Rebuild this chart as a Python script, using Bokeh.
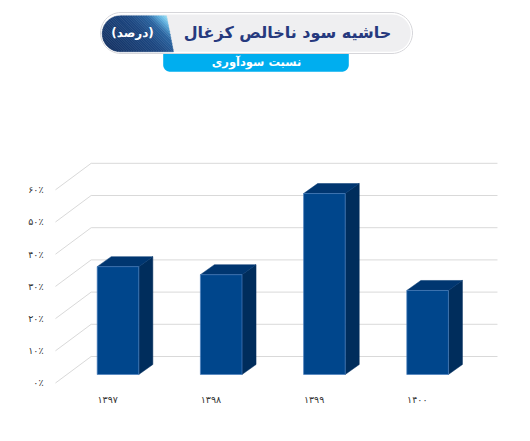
import numpy as np
from bokeh.plotting import figure
from bokeh.models import Range1d, LinearAxis, FixedTicker
from bokeh.core.properties import value
from bokeh.embed import file_html
from bokeh.resources import INLINE

# ---------------- data ----------------
years = ["۱۳۹۷", "۱۳۹۸", "۱۳۹۹", "۱۴۰۰"]
margin_pct = [33.5, 31.0, 56.2, 26.1]
y_ticks = [0, 10, 20, 30, 40, 50, 60]
y_tick_labels = ["۰٪", "۱۰٪", "۲۰٪", "۳۰٪", "۴۰٪", "۵۰٪", "۶۰٪"]
title_text = "حاشیه سود ناخالص کزغال"
unit_text = "(درصد)"
subtitle_text = "نسبت سودآوری"

# ---------------- layout ----------------
W, H = 514, 425
BL, BB = 47, 36
X0, X1 = -0.6831, 3.842
Y0, Y1 = -4.66, 116.15
FL, FR, FT, FB = BL, W, 0, H - BB   # frame in picture pixels

HALF = 0.2016      # half width of bar front face
DEP_X, DEP_Y = 0.136, 3.1
FRONT_X, FRONT_Y = -0.6056, -2.64
BACK_X, BACK_Y = -0.26, 5.59
WALL_END = 3.677

FONT = value("DejaVu Sans")


def dxp(px):
    return X0 + (px - FL) / (FR - FL) * (X1 - X0)


def dyp(py):
    return Y1 - (py - FT) / (FB - FT) * (Y1 - Y0)


def rrect(x0, y0, x1, y1, rtl, rtr, rbr, rbl, n=14):
    pts = []
    corners = [((x0 + rtl, y0 + rtl), rtl, np.pi, 1.5 * np.pi, (x0, y0)),
               ((x1 - rtr, y0 + rtr), rtr, 1.5 * np.pi, 2 * np.pi, (x1, y0)),
               ((x1 - rbr, y1 - rbr), rbr, 0.0, 0.5 * np.pi, (x1, y1)),
               ((x0 + rbl, y1 - rbl), rbl, 0.5 * np.pi, np.pi, (x0, y1))]
    for (cx, cy), r, a0, a1, c in corners:
        if r <= 0:
            pts.append(c)
        else:
            for a in np.linspace(a0, a1, n):
                pts.append((cx + r * np.cos(a), cy + r * np.sin(a)))
    return pts


def to_data(pts):
    return [dxp(p[0]) for p in pts], [dyp(p[1]) for p in pts]


def clip(poly, f, c, keep_ge=True):
    out = []
    m = len(poly)
    for k in range(m):
        a, b = poly[k], poly[(k + 1) % m]
        fa, fb = f(a) - c, f(b) - c
        if not keep_ge:
            fa, fb = -fa, -fb
        if fa >= 0:
            out.append(a)
        if (fa >= 0) != (fb >= 0):
            t = fa / (fa - fb)
            out.append((a[0] + t * (b[0] - a[0]), a[1] + t * (b[1] - a[1])))
    return out


def lerp_color(t, stops):
    for (t0, c0), (t1, c1) in zip(stops[:-1], stops[1:]):
        if t <= t1:
            u = (t - t0) / (t1 - t0) if t1 > t0 else 0
            rgb = [int(round(c0[i] + u * (c1[i] - c0[i]))) for i in range(3)]
            return "#%02x%02x%02x" % tuple(rgb)
    return "#%02x%02x%02x" % tuple(stops[-1][1])


p = figure(width=W, height=H, output_backend="svg", toolbar_location=None,
           x_range=Range1d(X0, X1), y_range=Range1d(Y0, Y1),
           x_axis_location=None, y_axis_location=None,
           min_border_left=BL, min_border_right=0, min_border_top=0,
           min_border_bottom=BB, background_fill_color="white",
           border_fill_color="white", outline_line_color=None)
p.xgrid.visible = False
p.ygrid.visible = False

# ---------------- axes ----------------
p.extra_y_ranges = {"lab": Range1d(Y0 - FRONT_Y, Y1 - FRONT_Y)}
p.extra_x_ranges = {"lab": Range1d(X0 + 0.1, X1 + 0.1)}

yax = LinearAxis(y_range_name="lab", ticker=FixedTicker(ticks=y_ticks),
                 major_label_overrides={t: s for t, s in zip(y_ticks, y_tick_labels)})
xax = LinearAxis(x_range_name="lab", ticker=FixedTicker(ticks=list(range(len(years)))),
                 major_label_overrides={i: s for i, s in enumerate(years)})
for ax in (yax, xax):
    ax.axis_line_color = None
    ax.major_tick_line_color = None
    ax.minor_tick_line_color = None
    ax.major_tick_out = 0
    ax.major_tick_in = 0
    ax.major_label_standoff = 4
    ax.major_label_text_font = "DejaVu Sans"
    ax.major_label_text_font_size = "9.5px"
    ax.major_label_text_color = "#333333"
p.add_layout(yax, "left")
p.add_layout(xax, "below")

# ---------------- grid (3D walls) ----------------
n = len(y_ticks)
p.segment(x0=[FRONT_X] * n, y0=[t + FRONT_Y for t in y_ticks],
          x1=[BACK_X] * n, y1=[t + BACK_Y for t in y_ticks],
          line_color="#d9d9d9", line_width=1)
p.segment(x0=[BACK_X] * n, y0=[t + BACK_Y for t in y_ticks],
          x1=[WALL_END] * n, y1=[t + BACK_Y for t in y_ticks],
          line_color="#d9d9d9", line_width=1)

# ---------------- bars ----------------
cx = np.arange(len(years))
left = cx - HALF
right = cx + HALF
side_xs = [[r, r + DEP_X, r + DEP_X, r] for r in right]
side_ys = [[0, DEP_Y, v + DEP_Y, v] for v in margin_pct]
top_xs = [[l, r, r + DEP_X, l + DEP_X] for l, r in zip(left, right)]
top_ys = [[v, v, v + DEP_Y, v + DEP_Y] for v in margin_pct]
p.patches(side_xs, side_ys, fill_color="#002d5c", line_color="#002d5c", line_width=0.5)
p.patches(top_xs, top_ys, fill_color="#003670", line_color="#003670", line_width=0.5)
p.quad(left=left, right=right, bottom=0, top=margin_pct,
       fill_color="#00468c", line_color="#4a80bd", line_width=0.7)

# ---------------- title banner ----------------
tab = rrect(162.7, 45, 348.3, 71.3, 0, 0, 7, 7)
x, y = to_data(tab)
p.patch(x, y, fill_color="#00aeef", line_color=None)

outer = rrect(100, 12, 412, 53, 20.5, 20.5, 20.5, 20.5)
x, y = to_data(outer)
p.patch(x, y, fill_color="white", line_color="#d6d6da", line_width=1)
inner = rrect(101.8, 14, 410.2, 51.2, 18.6, 18.6, 18.6, 18.6)
x, y = to_data(inner)
p.patch(x, y, fill_color="#efeff1", line_color=None)

# dark gradient segment
dark = [(119.7, 15.3), (166.0, 15.3), (173.0, 51.3), (119.7, 51.3)]
for a in np.linspace(0.5 * np.pi, 1.5 * np.pi, 20):
    dark.append((119.7 + 18 * np.cos(a), 33.3 + 18 * np.sin(a)))
sfun = lambda q: q[0] - 1.0 * q[1]
svals = [sfun(q) for q in dark]
smin, smax = min(svals), max(svals)
stops = [(0.0, (20, 50, 100)), (0.55, (28, 70, 128)), (0.78, (42, 100, 160)),
         (0.91, (95, 175, 222)), (1.0, (150, 222, 244))]
nb = 36
edges = np.linspace(smin, smax, nb + 1)
for k in range(nb):
    band = clip(dark, sfun, edges[k] - 0.05, True)
    band = clip(band, sfun, edges[k + 1] + 0.05, False)
    if len(band) >= 3:
        col = lerp_color((k + 0.5) / nb, stops)
        x, y = to_data(band)
        p.patch(x, y, fill_color=col, line_color=col, line_width=0.4)

# ---------------- banner texts ----------------
p.text(x=[dxp(287)], y=[dyp(31.5)], text=[title_text], text_font=FONT,
       text_font_style="bold", text_font_size="16px", text_color="#26397e",
       text_align="center", text_baseline="middle")
p.text(x=[dxp(132)], y=[dyp(32)], text=[unit_text], text_font=FONT,
       text_font_style="bold", text_font_size="12px", text_color="white",
       text_align="center", text_baseline="middle")
p.text(x=[dxp(256)], y=[dyp(61.5)], text=[subtitle_text], text_font=FONT,
       text_font_style="bold", text_font_size="11.5px", text_color="white",
       text_align="center", text_baseline="middle")

open("out.html", "w").write(file_html(p, INLINE))
